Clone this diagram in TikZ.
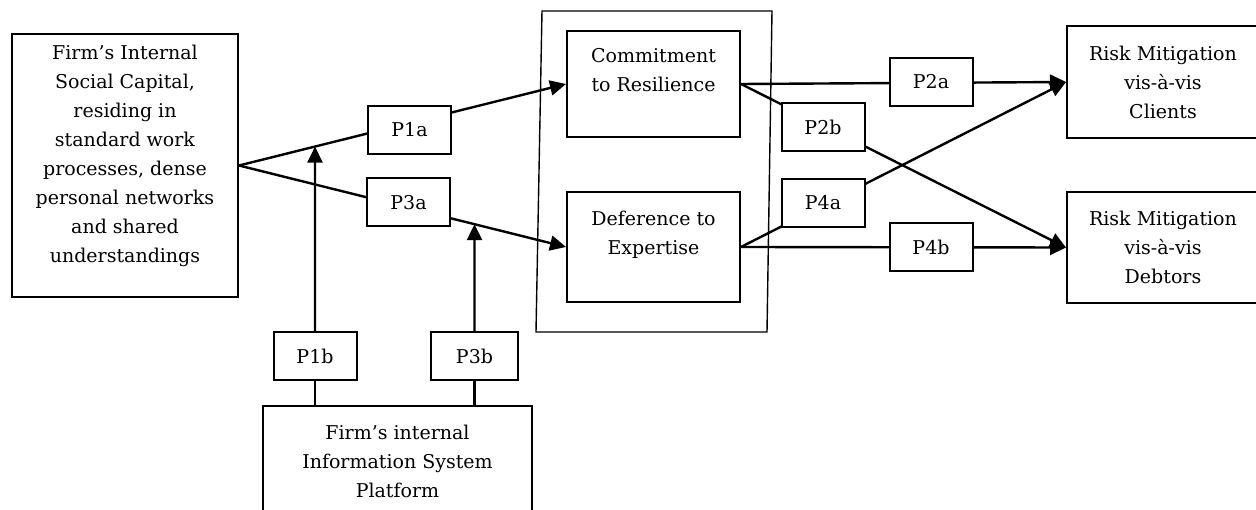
\documentclass[tikz,border=0pt]{standalone}
\usepackage{fontspec}
\setmainfont{DejaVu Serif}
\usetikzlibrary{arrows.meta,calc}
\tikzset{
  box/.style={draw, line width=2pt, fill=white, inner sep=0pt, align=center,
    font=\fontsize{19}{29}\selectfont},
  pbox/.style={box, minimum width=83pt, minimum height=48pt},
  conn/.style={line width=2.4pt},
  arr/.style={conn, -{Triangle[length=16pt,width=15pt]}},
  frame/.style={line width=1.4pt},
}
\begin{document}
\begin{tikzpicture}[x=1pt,y=-1pt]
\useasboundingbox (0,0) rectangle (1256,510);
% outer frame
\draw[frame] (542,11) -- (772,11) -- (767,332) -- (536,332) -- cycle;
% main boxes
\node[box, minimum width=226pt, minimum height=263pt] (soc) at (125,165.5)
  {Firm’s Internal\\Social Capital,\\residing in\\standard work\\processes, dense\\personal networks\\and shared\\understandings\\[-5pt]\mbox{}};
\node[box, minimum width=173pt, minimum height=106pt] (com) at (653.5,84)
  {Commitment\\to Resilience\\\mbox{}};
\node[box, minimum width=173pt, minimum height=110pt] (def) at (653.5,247)
  {Deference to\\Expertise\\\mbox{}};
\node[box, minimum width=192pt, minimum height=112pt] (cli) at (1163,82)
  {Risk Mitigation\\vis-à-vis\\Clients};
\node[box, minimum width=192pt, minimum height=111pt] (deb) at (1163,247.5)
  {Risk Mitigation\\vis-à-vis\\Debtors};
\node[box, minimum width=269pt, minimum height=110pt] (isp) at (397.5,461)
  {Firm’s internal\\Information System\\Platform};
% connectors
\draw[arr] (soc.east) -- (com.west);
\draw[arr] (soc.east) -- (def.west);
\draw[arr] (com.east) -- (cli.west);
\draw[arr] (com.east) -- (deb.west);
\draw[arr] (def.east) -- (cli.west);
\draw[arr] (def.east) -- (deb.west);
% proposition boxes
\node[pbox] (p1a) at (409.5,130) {P1a};
\node[pbox] (p3a) at (408.5,202.5) {P3a};
\node[pbox] (p2a) at (931,82) {P2a};
\node[pbox] (p2b) at (823,127) {P2b};
\node[pbox] (p4a) at (823,203) {P4a};
\node[pbox] (p4b) at (931,247.5) {P4b};
\node[pbox] (p1b) at (315,356.5) {P1b};
\node[pbox, minimum width=87pt] (p3b) at (474.5,356.5) {P3b};
% moderators
\draw[arr] (p1b.north) -- (intersection of soc.east--com.west and p1b.north--p1b.south);
\draw[arr] (p3b.north) -- (intersection of soc.east--def.west and p3b.north--p3b.south);
\draw[conn] (p1b.south) -- (p1b.south |- isp.north);
\draw[conn] (p3b.south) -- (p3b.south |- isp.north);
\end{tikzpicture}
\end{document}
